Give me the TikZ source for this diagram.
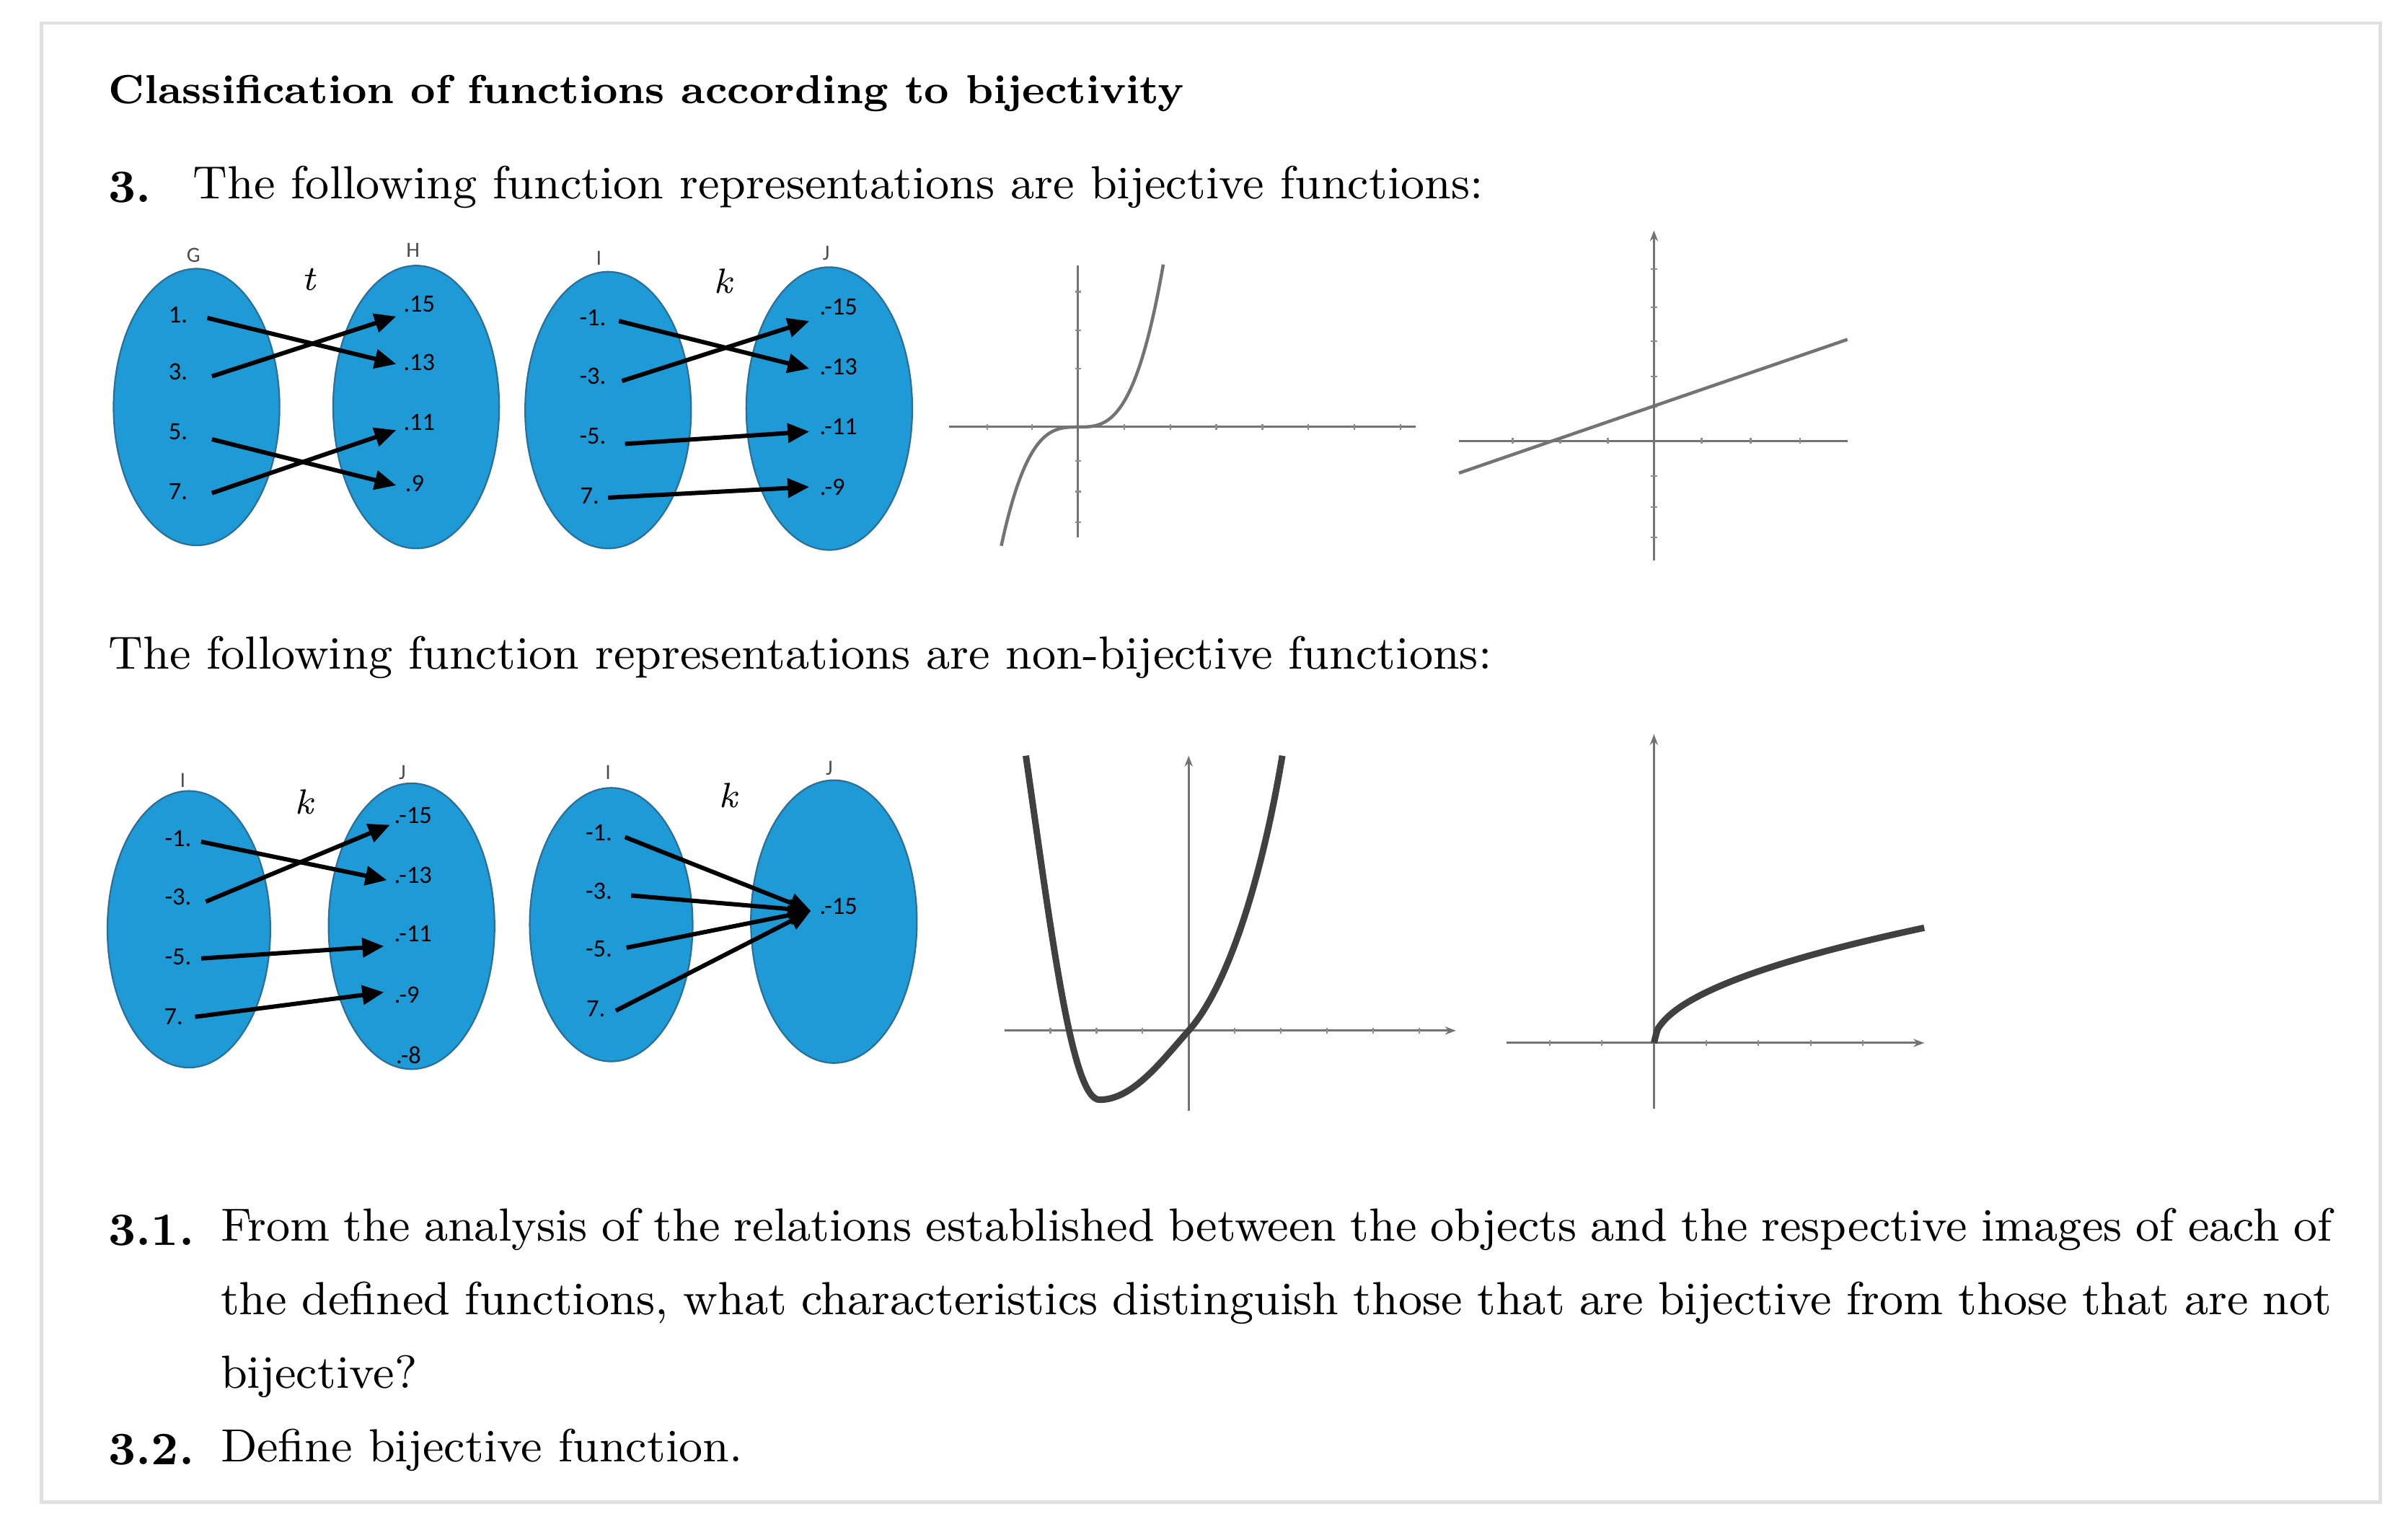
\documentclass[tikz,border=0pt]{standalone}
\usepackage{fontspec}
\newfontfamily\lblfont{Carlito}
\usetikzlibrary{arrows.meta,shapes.geometric}
\definecolor{ellblue}{HTML}{1E9BD7}
\definecolor{ellline}{HTML}{2A6F9A}
\begin{document}
\begin{tikzpicture}[x=0.01cm,y=-0.01cm,
  ell/.style={ellipse,draw=ellline,fill=ellblue,line width=0.3pt,inner sep=0pt},
  el/.style={font=\lblfont\fontsize{4.6}{5}\selectfont,inner sep=0.5pt},
  setl/.style={font=\lblfont\fontsize{4}{5}\selectfont,text=black!70},
  fn/.style={font=\itshape\fontsize{6.5}{7}\selectfont},
  ar/.style={-{Triangle[length=4pt,width=3.5pt]},line width=0.8pt},
  ax/.style={draw=black!55,line width=0.4pt},
  axa/.style={ax,-{Stealth[length=2pt,width=1.5pt]}},
  txt/.style={anchor=west,font=\fontsize{8.6}{13.6}\selectfont,inner sep=0pt}]
\useasboundingbox (0,0) rectangle (1568,994);
\draw[black!12,line width=0.6pt] (27,15) rectangle (1550,978);
\node[txt,font=\bfseries\fontsize{7.5}{10}\selectfont] (title) at (70,61) {Classification of functions according to bijectivity};
\node[txt] (n3) at (70,122) {\textbf{3.}};
\node[txt] (t3) at (125,122) {The following function representations are bijective functions:};
\node[txt] (tn) at (70,428) {The following function representations are non-bijective functions:};
\node[txt] (n31) at (70,801) {\textbf{3.1.}};
\node[anchor=north west,inner sep=0pt,text width=13.74cm,align=justify,font=\fontsize{8.6}{13.6}\selectfont] (t31) at (143,786) {From the analysis of the relations established between the objects and the respective images of each of\linebreak the defined functions, what characteristics distinguish those that are bijective from those that are not\linebreak bijective?};
\node[txt] (n32) at (70,944) {\textbf{3.2.}};
\node[txt] (t32) at (143,944) {Define bijective function.};

% ---- top diagrams
\node[ell,minimum width=1.08cm,minimum height=1.80cm] (G) at (128,265) {};
\node[ell,minimum width=1.08cm,minimum height=1.84cm] (H) at (271,265) {};
\node[ell,minimum width=1.08cm,minimum height=1.80cm] (I) at (396,267) {};
\node[ell,minimum width=1.08cm,minimum height=1.84cm] (J) at (540,266) {};
\node[setl] (lG) at (126,166) {G};
\node[setl] (lH) at (269,163) {H};
\node[setl] (lI) at (390,168) {I};
\node[setl] (lJ) at (538,165) {J};
\node[fn] (ft) at (201,182) {t};
\node[fn] (fk) at (471,183) {k};
\node[el] (g1) at (116,205) {1.};
\node[el] (g3) at (116,242) {3.};
\node[el] (g5) at (116,281) {5.};
\node[el] (g7) at (116,320) {7.};
\node[el] (h15) at (273,198) {.15};
\node[el] (h13) at (273,236) {.13};
\node[el] (h11) at (273,275) {.11};
\node[el] (h9) at (270,315) {.9};
\coordinate (a1) at (135,207); \coordinate (b13) at (258,237);
\coordinate (a3) at (138,245); \coordinate (b15) at (258,206);
\coordinate (a5) at (138,286); \coordinate (b9) at (258,316);
\coordinate (a7) at (138,321); \coordinate (b11) at (258,280);
\draw[ar] (a1)--(b13); \draw[ar] (a3)--(b15); \draw[ar] (a5)--(b9); \draw[ar] (a7)--(b11);
\node[el] (i1) at (386,207) {-1.};
\node[el] (i3) at (386,245) {-3.};
\node[el] (i5) at (386,284) {-5.};
\node[el] (i7) at (384,323) {7.};
\node[el] (j15) at (546,200) {.-15};
\node[el] (j13) at (546,239) {.-13};
\node[el] (j11) at (546,278) {.-11};
\node[el] (j9) at (542,317) {.-9};
\coordinate (c1) at (403,209); \coordinate (d13) at (527,240);
\coordinate (c3) at (405,248); \coordinate (d15) at (527,209);
\coordinate (c5) at (407,289); \coordinate (d11) at (527,281);
\coordinate (c7) at (396,324); \coordinate (d9) at (527,317);
\draw[ar] (c1)--(d13); \draw[ar] (c3)--(d15); \draw[ar] (c5)--(d11); \draw[ar] (c7)--(d9);

% ---- graph 1 cubic
\draw[ax] (618,278)--(922,278);
\draw[ax] (702,173)--(702,350);
\foreach \t in {643,672,732,762,792,822,852,882,912} \draw[black!45,line width=0.3pt] (\t,276)--(\t,280);
\foreach \t in {190,215,240,300,320,340} \draw[black!45,line width=0.3pt] (700,\t)--(704,\t);
\draw[black!55,line width=0.6pt] plot[domain=-5:5.55,samples=60,smooth] ({702+10*\x},{278-0.619*\x*\x*\x});

% ---- graph 2 linear
\draw[ax] (950,287)--(1203,287);
\draw[axa] (1077,365)--(1077,150);
\foreach \t in {985,1016,1047,1108,1140,1172} \draw[black!45,line width=0.3pt] (\t,285)--(\t,289);
\foreach \t in {175,200,222,245,265,310,330,350} \draw[black!45,line width=0.3pt] (1075,\t)--(1079,\t);
\draw[black!55,line width=0.6pt] (950,308)--(1203,221);

% ---- bottom diagrams
\node[ell,minimum width=1.06cm,minimum height=1.80cm] (I2) at (123,605) {};
\node[ell,minimum width=1.08cm,minimum height=1.86cm] (J2) at (268,603) {};
\node[ell,minimum width=1.06cm,minimum height=1.78cm] (I3) at (398,602) {};
\node[ell,minimum width=1.08cm,minimum height=1.84cm] (J3) at (543,600) {};
\node[setl] (lI2) at (119,508) {I};
\node[setl] (lJ2) at (262,503) {J};
\node[setl] (lI3) at (396,503) {I};
\node[setl] (lJ3) at (540,500) {J};
\node[fn] (fk2) at (198,522) {k};
\node[fn] (fk3) at (474,518) {k};
\node[el] (p1) at (116,546) {-1.};
\node[el] (p3) at (116,584) {-3.};
\node[el] (p5) at (116,623) {-5.};
\node[el] (p7) at (113,662) {7.};
\node[el] (q15) at (269,531) {.-15};
\node[el] (q13) at (269,570) {.-13};
\node[el] (q11) at (269,608) {.-11};
\node[el] (q9) at (265,648) {.-9};
\node[el] (q8) at (266,687) {.-8};
\coordinate (e1) at (131,548); \coordinate (f13) at (252,573);
\coordinate (e3) at (134,587); \coordinate (f15) at (254,537);
\coordinate (e5) at (131,624); \coordinate (f11) at (250,616);
\coordinate (e7) at (127,662); \coordinate (f9) at (250,646);
\draw[ar] (e1)--(f13); \draw[ar] (e3)--(f15); \draw[ar] (e5)--(f11); \draw[ar] (e7)--(f9);
\node[el] (r1) at (390,542) {-1.};
\node[el] (r3) at (390,580) {-3.};
\node[el] (r5) at (390,618) {-5.};
\node[el] (r7) at (388,657) {7.};
\node[el] (s15) at (546,590) {.-15};
\coordinate (s) at (528,593);
\coordinate (u1) at (407,545); \coordinate (u3) at (411,583);
\coordinate (u5) at (408,617); \coordinate (u7) at (401,658);
\draw[ar] (u1)--(s); \draw[ar] (u3)--(s); \draw[ar] (u5)--(s); \draw[ar] (u7)--(s);

% ---- graph 3
\draw[axa] (654,671)--(948,671);
\draw[axa] (774,723)--(774,492);
\foreach \t in {684,714,744,804,834,864,894,924} \draw[black!45,line width=0.3pt] (\t,669)--(\t,673);
\draw[black!75,line width=1.2pt] (668,492) .. controls (685,610) and (698,716) .. (716,716) .. controls (738,716) and (757,690) .. (774,671) .. controls (800,642) and (822,570) .. (835,492);

% ---- graph 4
\draw[axa] (981,679)--(1253,679);
\draw[axa] (1077,722)--(1077,478);
\foreach \t in {1009,1043,1111,1145,1179,1213} \draw[black!45,line width=0.3pt] (\t,677)--(\t,681);
\draw[black!75,line width=1.2pt] plot[domain=0:176,samples=80,smooth] ({1077+\x},{679-5.65*sqrt(\x)});
\end{tikzpicture}
\end{document}
